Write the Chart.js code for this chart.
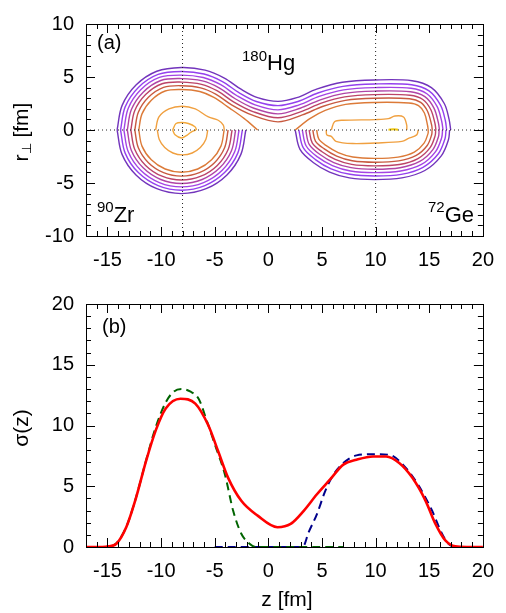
<!DOCTYPE html>
<html>
<head>
<meta charset="utf-8">
<script src="https://cdn.jsdelivr.net/npm/chart.js@4.4.1/dist/chart.umd.min.js"></script>
<style>
    html, body { margin: 0; padding: 0; background: #fff; }
    #wrap { position: relative; width: 506px; height: 613px; }
    canvas { position: absolute; left: 0; }
    #topChart { top: 0; }
    #bottomChart { top: 280px; }
</style>
</head>
<body>
<div id="wrap">
    <canvas id="topChart" width="506" height="280"></canvas>
    <canvas id="bottomChart" width="506" height="333"></canvas>
</div>
<script>
// axis ranges and tick labels
const zRange = [-17, 20];
const rRange = [-10, 10];
const sigmaRange = [0, 20];
const zTickValues = [-15, -10, -5, 0, 5, 10, 15, 20];
const rTickValues = [-10, -5, 0, 5, 10];
const sigmaTickValues = [0, 5, 10, 15, 20];
const guideZ = [-8, 10];
const guideR = [0];

// panel (a): density contours, [z, r] in fm, outermost level first
const hgLevels = [
    [[[-14.1, 0], [-13.64, 2.3], [-12.34, 4.24], [-10.4, 5.54], [-8.1, 5.9], [-5.9, 5.65], [-4.1, 4.9], [-2.55, 3.85], [-1.0, 3.05], [0.9, 2.7], [2.65, 3.05], [4.5, 3.85], [6.9, 4.5], [9.9, 4.72], [13.4, 4.65], [15.2, 4.0], [16.4, 2.5], [16.85, 1.0], [17.0, 0]]],
    [[[-13.78, 0], [-13.35, 2.18], [-12.12, 4.02], [-10.28, 5.25], [-8.1, 5.52], [-5.99, 5.28], [-4.28, 4.57], [-2.74, 3.52], [-1.12, 2.69], [0.9, 2.3], [2.76, 2.69], [4.62, 3.49], [6.96, 4.12], [9.9, 4.34], [13.35, 4.27], [14.98, 3.69], [16.05, 2.34], [16.5, 0.9], [16.62, 0]]],
    [[[-13.47, 0], [-13.06, 2.06], [-11.9, 3.8], [-10.16, 4.96], [-8.1, 5.18], [-6.07, 4.95], [-4.44, 4.27], [-2.92, 3.23], [-1.23, 2.37], [0.9, 1.9], [2.87, 2.37], [4.73, 3.17], [7.02, 3.79], [9.9, 4.0], [13.3, 3.94], [14.78, 3.42], [15.74, 2.2], [16.17, 0.78], [16.28, 0]]],
    [[[-13.15, 0], [-12.77, 1.93], [-11.67, 3.57], [-10.03, 4.67], [-8.1, 4.85], [-6.15, 4.63], [-4.59, 3.98], [-3.09, 2.95], [-1.34, 2.05], [0.9, 1.52], [2.97, 2.05], [4.84, 2.85], [7.07, 3.46], [9.9, 3.67], [13.26, 3.61], [14.59, 3.15], [15.44, 2.07], [15.85, 0.69], [15.95, 0]]],
    [[[-12.82, 0], [-12.46, 1.81], [-11.44, 3.34], [-9.91, 4.36], [-8.1, 4.52], [-6.23, 4.31], [-4.75, 3.69], [-3.25, 2.66], [-1.44, 1.74], [0.9, 1.15], [3.06, 1.74], [4.94, 2.54], [7.12, 3.13], [9.9, 3.34], [13.21, 3.28], [14.4, 2.88], [15.14, 1.93], [15.54, 0.59], [15.62, 0]]],
    [[[-12.45, 0], [-12.12, 1.67], [-11.18, 3.08], [-9.77, 4.02], [-8.1, 4.18], [-6.31, 3.98], [-4.91, 3.39], [-3.43, 2.37], [-1.55, 1.42], [0.9, 0.77], [3.17, 1.42], [5.05, 2.22], [7.18, 2.8], [9.9, 3.0], [13.17, 2.95], [14.2, 2.61], [14.83, 1.79], [15.22, 0.48], [15.28, 0]]],
    [
        [[-12.08, 0], [-11.78, 1.52], [-10.91, 2.81], [-9.62, 3.68], [-8.1, 3.82], [-6.4, 3.63], [-5.08, 3.07], [-3.61, 2.06], [-2.24, 1.07], [-1.0, 0]],
        [[2.5, 0], [3.87, 1.07], [5.3, 1.85], [7.2, 2.42], [9.9, 2.6], [13.1, 2.55], [14.0, 2.3], [14.55, 1.6], [14.85, 0.4], [14.9, 0]]
    ],
    [
        [[-10.51, 0], [-10.2, 1.23], [-9.27, 1.99], [-8.04, 2.24], [-6.81, 1.99], [-5.59, 1.23], [-4.67, 0.92], [-4.2, 0.46], [-4.11, 0]],
        [[5.87, 0], [6.17, 0.77], [6.94, 0.92], [10.0, 0.98], [11.2, 1.07], [11.8, 1.32], [12.6, 1.23], [12.9, 0.46], [12.9, 0]]
    ],
    [[[-8.92, 0], [-8.61, 0.61], [-8.06, 0.71], [-7.45, 0.61], [-6.84, 0.31], [-6.69, 0]]],
    [[[11.2, 0.03], [11.65, 0.07], [12.1, 0.03]]]
];

const zrLevels = [
    [[[-14.1, 0], [-13.64, -2.3], [-12.34, -4.24], [-10.4, -5.54], [-8.1, -6.0], [-5.8, -5.54], [-3.86, -4.24], [-2.56, -2.3], [-2.1, 0]]],
    [[[-13.78, 0], [-13.35, -2.18], [-12.12, -4.02], [-10.28, -5.25], [-8.1, -5.68], [-5.92, -5.25], [-4.08, -4.02], [-2.85, -2.18], [-2.42, 0]]],
    [[[-13.47, 0], [-13.06, -2.06], [-11.9, -3.8], [-10.16, -4.96], [-8.1, -5.37], [-6.04, -4.96], [-4.3, -3.8], [-3.14, -2.06], [-2.73, 0]]],
    [[[-13.15, 0], [-12.77, -1.93], [-11.67, -3.57], [-10.03, -4.67], [-8.1, -5.05], [-6.17, -4.67], [-4.53, -3.57], [-3.43, -1.93], [-3.05, 0]]],
    [[[-12.82, 0], [-12.46, -1.81], [-11.44, -3.34], [-9.91, -4.36], [-8.1, -4.72], [-6.29, -4.36], [-4.76, -3.34], [-3.74, -1.81], [-3.38, 0]]],
    [[[-12.45, 0], [-12.12, -1.67], [-11.18, -3.08], [-9.77, -4.02], [-8.1, -4.35], [-6.43, -4.02], [-5.02, -3.08], [-4.08, -1.67], [-3.75, 0]]],
    [[[-12.08, 0], [-11.78, -1.52], [-10.91, -2.81], [-9.62, -3.68], [-8.1, -3.98], [-6.58, -3.68], [-5.29, -2.81], [-4.42, -1.52], [-4.12, 0]]],
    [[[-10.35, 0], [-10.17, -0.9], [-9.66, -1.66], [-8.9, -2.17], [-8.0, -2.35], [-7.1, -2.17], [-6.34, -1.66], [-5.83, -0.9], [-5.65, 0]]],
    [[[-8.92, 0], [-8.7, -0.45], [-8.1, -0.75], [-7.6, -0.5], [-7.2, -0.2], [-6.75, 0]]]
];

const geLevels = [
    [[[2.5, 0], [2.95, -1.83], [4.18, -3.06], [5.71, -3.97], [7.55, -4.52], [9.9, -4.68], [12.45, -4.52], [14.59, -3.82], [16.12, -2.44], [16.79, -0.92], [16.9, 0]]],
    [[[2.84, 0], [3.25, -1.67], [4.39, -2.79], [5.85, -3.66], [7.61, -4.18], [9.9, -4.34], [12.39, -4.19], [14.42, -3.52], [15.85, -2.24], [16.47, -0.82], [16.56, 0]]],
    [[[3.16, 0], [3.53, -1.51], [4.58, -2.54], [5.97, -3.36], [7.66, -3.87], [9.9, -4.02], [12.33, -3.87], [14.27, -3.25], [15.59, -2.04], [16.16, -0.72], [16.24, 0]]],
    [[[3.48, 0], [3.81, -1.36], [4.78, -2.29], [6.1, -3.07], [7.71, -3.55], [9.9, -3.7], [12.27, -3.56], [14.11, -2.97], [15.34, -1.85], [15.86, -0.63], [15.92, 0]]],
    [[[3.8, 0], [4.09, -1.21], [4.97, -2.03], [6.23, -2.77], [7.77, -3.24], [9.9, -3.38], [12.22, -3.25], [13.95, -2.69], [15.08, -1.66], [15.55, -0.53], [15.6, 0]]],
    [[[4.14, 0], [4.39, -1.04], [5.18, -1.76], [6.37, -2.46], [7.82, -2.9], [9.9, -3.04], [12.15, -2.91], [13.79, -2.39], [14.81, -1.46], [15.23, -0.43], [15.26, 0]]],
    [[[4.5, 0], [4.71, -0.87], [5.4, -1.48], [6.51, -2.13], [7.88, -2.55], [9.9, -2.68], [12.09, -2.56], [13.61, -2.08], [14.52, -1.24], [14.89, -0.32], [14.9, 0]]],
    [[[5.4, 0], [5.45, -0.46], [5.87, -0.6], [6.3, -1.07], [7.86, -1.28], [10.0, -1.22], [12.45, -1.07], [13.06, -0.8], [13.83, -0.46], [13.97, 0]]]
];

// panel (b): sigma(z)
const zTotal = [-17, -15.5, -14.9, -14.17, -13.25, -12.33, -11.41, -10.49, -9.57, -8.19, -6.81, -5.59, -4.67, -3.75, -2.52, -1.0, 0.85, 2.08, 3.3, 4.53, 5.76, 6.99, 8.22, 9.76, 10.98, 12.2, 13.43, 14.66, 15.58, 16.5, 17.42, 18.5, 20];
const sigmaTotal = [0, 0, 0.05, 0.27, 1.63, 4.07, 7.05, 9.62, 11.4, 12.2, 11.8, 10.0, 7.86, 5.69, 3.8, 2.58, 1.63, 1.9, 2.98, 4.34, 5.56, 6.78, 7.18, 7.45, 7.45, 6.91, 5.69, 3.8, 1.9, 0.54, 0.05, 0, 0];
const zZr = [-17, -15.5, -14.5, -13.25, -12.33, -11.41, -10.49, -9.57, -8.8, -8.1, -7.3, -6.5, -5.74, -4.97, -4.05, -3.28, -2.52, -1.75, -1.2, 7];
const sigmaZr = [0, 0, 0.1, 1.65, 4.1, 7.1, 9.9, 11.9, 12.8, 13.0, 12.8, 12.2, 10.4, 8.4, 5.97, 2.98, 1.09, 0.27, 0, 0];
const zGe = [-5, 3.2, 3.76, 4.53, 5.3, 6.07, 6.99, 8.22, 9.76, 11.29, 12.82, 14.04, 15.27, 16.19, 16.8, 17.5, 20];
const sigmaGe = [0, 0, 1.22, 2.71, 4.6, 5.96, 6.91, 7.54, 7.64, 7.59, 6.5, 5.01, 2.98, 1.09, 0.27, 0, 0];

const levelColors = ["#7234bc", "#9440ee", "#a444e4", "#b044a6", "#bc4468", "#c85a40", "#dc7a38", "#f0a040", "#f3a83a", "#f0c814"];
const FONT = '"Liberation Sans", Arial, Helvetica, sans-serif';

function contourSets(levels) {
    const sets = [];
    levels.forEach((curves, i) => {
        curves.forEach((curve) => {
            sets.push({
                data: curve.map(([z, r]) => ({ x: z, y: r })),
                borderColor: levelColors[i],
                borderWidth: i === levelColors.length - 1 ? 2 : 1.4,
                tension: 0.34,
                showLine: true,
                pointRadius: 0,
                order: 1
            });
        });
    });
    return sets;
}

function guideSets() {
    const dotted = { borderColor: "#222", borderWidth: 1, borderDash: [1, 3], showLine: true, pointRadius: 0, order: 0 };
    const sets = guideZ.map((z) => ({ ...dotted, data: [{ x: z, y: rRange[0] }, { x: z, y: rRange[1] }] }));
    guideR.forEach((r) => sets.push({ ...dotted, data: [{ x: zRange[0], y: r }, { x: zRange[1], y: r }] }));
    return sets;
}

function curveSet(zs, values, color, width, dash, order) {
    return {
        data: zs.map((z, i) => ({ x: z, y: values[i] })),
        borderColor: color,
        borderWidth: width,
        borderDash: dash,
        cubicInterpolationMode: "monotone",
        showLine: true,
        pointRadius: 0,
        order
    };
}

function drawRich(ctx, x, y, parts, angle, center) {
    ctx.save();
    ctx.translate(x, y);
    if (angle) {
        ctx.rotate(angle);
    }
    ctx.fillStyle = "#000";
    ctx.textBaseline = "alphabetic";
    ctx.textAlign = "left";
    let total = 0;
    parts.forEach((p) => {
        ctx.font = `${p.size}px ${FONT}`;
        total += ctx.measureText(p.text).width;
    });
    let cx = center ? -total / 2 : 0;
    parts.forEach((p) => {
        ctx.font = `${p.size}px ${FONT}`;
        ctx.fillText(p.text, cx, p.dy || 0);
        cx += ctx.measureText(p.text).width;
    });
    ctx.restore();
}

function makeDecor(texts) {
    return {
        id: "panelDecor",
        afterDraw(chart) {
            const { ctx, chartArea: a, scales } = chart;
            const xs = scales.x;
            const ys = scales.y;
            ctx.save();
            ctx.strokeStyle = "#000";
            ctx.lineWidth = 1;
            ctx.beginPath();
            for (let v = Math.ceil(xs.min); v <= xs.max; v += 1) {
                const px = Math.round(xs.getPixelForValue(v)) + 0.5;
                const len = v % 5 === 0 ? 9 : 5;
                ctx.moveTo(px, a.bottom);
                ctx.lineTo(px, a.bottom - len);
                ctx.moveTo(px, a.top);
                ctx.lineTo(px, a.top + len);
            }
            for (let v = Math.ceil(ys.min); v <= ys.max; v += 1) {
                const py = Math.round(ys.getPixelForValue(v)) + 0.5;
                const len = v % 5 === 0 ? 9 : 5;
                ctx.moveTo(a.left, py);
                ctx.lineTo(a.left + len, py);
                ctx.moveTo(a.right, py);
                ctx.lineTo(a.right - len, py);
            }
            ctx.stroke();
            ctx.strokeRect(Math.round(a.left) + 0.5, Math.round(a.top) + 0.5, Math.round(a.right - a.left), Math.round(a.bottom - a.top));
            ctx.restore();
            texts.forEach((t) => drawRich(ctx, t.x, t.y, t.parts, t.angle, t.center));
        }
    };
}

function axisOptions(range, ticks, fitKey, fitSize, padding) {
    return {
        type: "linear",
        min: range[0],
        max: range[1],
        grid: { display: false, drawTicks: false },
        border: { display: false },
        ticks: { color: "#000", padding, font: { family: FONT, size: 20 } },
        afterBuildTicks(scale) {
            scale.ticks = ticks.map((v) => ({ value: v }));
        },
        afterFit(scale) {
            scale[fitKey] = fitSize;
        }
    };
}

function baseOptions(xAxis, yAxis, top) {
    return {
        responsive: false,
        animation: false,
        devicePixelRatio: 1,
        layout: { padding: { left: 0, right: 18, top, bottom: 0 } },
        plugins: { legend: { display: false }, tooltip: { enabled: false } },
        scales: { x: xAxis, y: yAxis }
    };
}

const topTexts = [
    { x: 97, y: 49, parts: [{ text: "(a)", size: 20 }] },
    { x: 242, y: 70, parts: [{ text: "180", size: 15, dy: -9 }, { text: "Hg", size: 22 }] },
    { x: 97, y: 222, parts: [{ text: "90", size: 15, dy: -10 }, { text: "Zr", size: 22 }] },
    { x: 428, y: 222, parts: [{ text: "72", size: 15, dy: -10 }, { text: "Ge", size: 22 }] },
    { x: 28, y: 132, angle: -Math.PI / 2, center: true, parts: [{ text: "r", size: 21 }, { text: "⊥", size: 13, dy: 3 }, { text: " [fm]", size: 21 }] }
];

const bottomTexts = [
    { x: 102, y: 53, parts: [{ text: "(b)", size: 20 }] },
    { x: 28, y: 148, angle: -Math.PI / 2, center: true, parts: [{ text: "σ(z)", size: 21 }] },
    { x: 287, y: 326, center: true, parts: [{ text: "z [fm]", size: 21 }] }
];

new Chart(document.getElementById("topChart"), {
    type: "scatter",
    data: { datasets: [...guideSets(), ...contourSets(hgLevels), ...contourSets(zrLevels), ...contourSets(geLevels)] },
    options: baseOptions(
        axisOptions(zRange, zTickValues, "height", 44, 12),
        axisOptions(rRange, rTickValues, "width", 86, 12),
        18
    ),
    plugins: [makeDecor(topTexts)]
});

new Chart(document.getElementById("bottomChart"), {
    type: "scatter",
    data: {
        datasets: [
            curveSet(zTotal, sigmaTotal, "#ff0000", 2.6, [], 0),
            curveSet(zZr, sigmaZr, "#006400", 2, [8, 5], 1),
            curveSet(zGe, sigmaGe, "#00008b", 2, [8, 5], 1)
        ]
    },
    options: baseOptions(
        axisOptions(zRange, zTickValues, "height", 66, 12),
        axisOptions(sigmaRange, sigmaTickValues, "width", 86, 12),
        21
    ),
    plugins: [makeDecor(bottomTexts)]
});
</script>
</body>
</html>
